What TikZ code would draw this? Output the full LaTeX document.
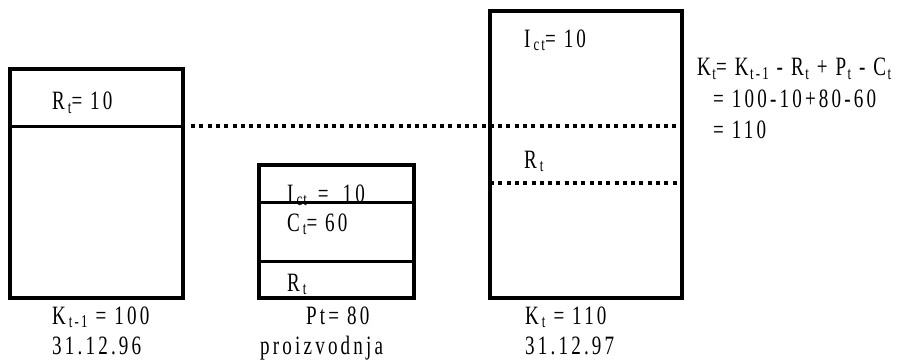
\documentclass[tikz,border=0pt]{standalone}
\usepackage{fontspec}
\setmainfont{Liberation Serif}[FakeStretch=0.72,LetterSpace=12]
\newcommand\sbs[1]{\hspace{3pt}\raisebox{-3pt}{\fontsize{18}{18}\selectfont #1}}
\newcommand\sbf[1]{\hspace{1.5pt}\raisebox{-3pt}{\fontsize{18}{18}\selectfont #1}}
\begin{document}
\begin{tikzpicture}[x=1pt,y=-1pt,
  box/.style={draw,line width=3.5pt,inner sep=0,outer sep=0,anchor=north west},
  divider/.style={line width=3pt},
  dotline/.style={line width=3.2pt,dash pattern=on 4pt off 4.3pt},
  lbl/.style={anchor=base west,inner sep=0,font=\fontsize{26.5}{26.5}\selectfont}]
\useasboundingbox (0,0) rectangle (902,361);
% texts
\node[lbl] (tL1) at (52,110) {R\sbs{t}= 10};
\node[lbl] (tM1) at (287,202) {I\sbs{c\hspace{1pt}t}\hspace{3pt} =\hspace{14pt}10};
\node[lbl] (tM2) at (287,231) {C\sbs{t}= 60};
\node[lbl] (tM3) at (287,291) {R\sbs{t}};
\node[lbl] (tM4) at (306,324) {Pt= 80};
\node[lbl] (tM5) at (260,354) {proizvodnja};
\node[lbl] (tL2) at (52,324) {K\sbs{t-1} = 100};
\node[lbl] (tL3) at (52,354) {31.12.96};
\node[lbl] (tR1) at (524,48) {I\sbs{ct}= 10};
\node[lbl] (tR2) at (524,168) {R\sbs{t}};
\node[lbl] (tR3) at (525,324) {K\sbs{t} = 110};
\node[lbl] (tR4) at (525,354) {31.12.97};
\node[lbl] (f1) at (697,76) {K\sbf{t}= K\sbf{t-1} - R\sbf{t} + P\sbf{t} - C\sbf{t}};
\node[lbl] (f2) at (713,107) {= 100-10+80-60};
\node[lbl] (f3) at (713,138) {= 110};
% boxes
\node[box,minimum width=173pt,minimum height=229pt] (L) at (10,69) {};
\node[box,minimum width=155pt,minimum height=133pt] (M) at (259,165) {};
\node[box,minimum width=192pt,minimum height=287pt] (R) at (490,11) {};
% named points
\coordinate (Ld) at (10,126);
\coordinate (M1) at (259,202);
\coordinate (M2) at (259,261);
\coordinate (D1s) at (191,126);
\coordinate (D1e) at (677,126);
\coordinate (D2s) at (490,183);
\coordinate (D2e) at (677,183);
% dividers
\draw[divider] (Ld) -- (Ld -| L.east);
\draw[divider] (M1) -- (M1 -| M.east);
\draw[divider] (M2) -- (M2 -| M.east);
% dotted lines
\draw[dotline] (D1s) -- (D1e);
\draw[dotline] (D2s) -- (D2e);
\end{tikzpicture}
\end{document}
